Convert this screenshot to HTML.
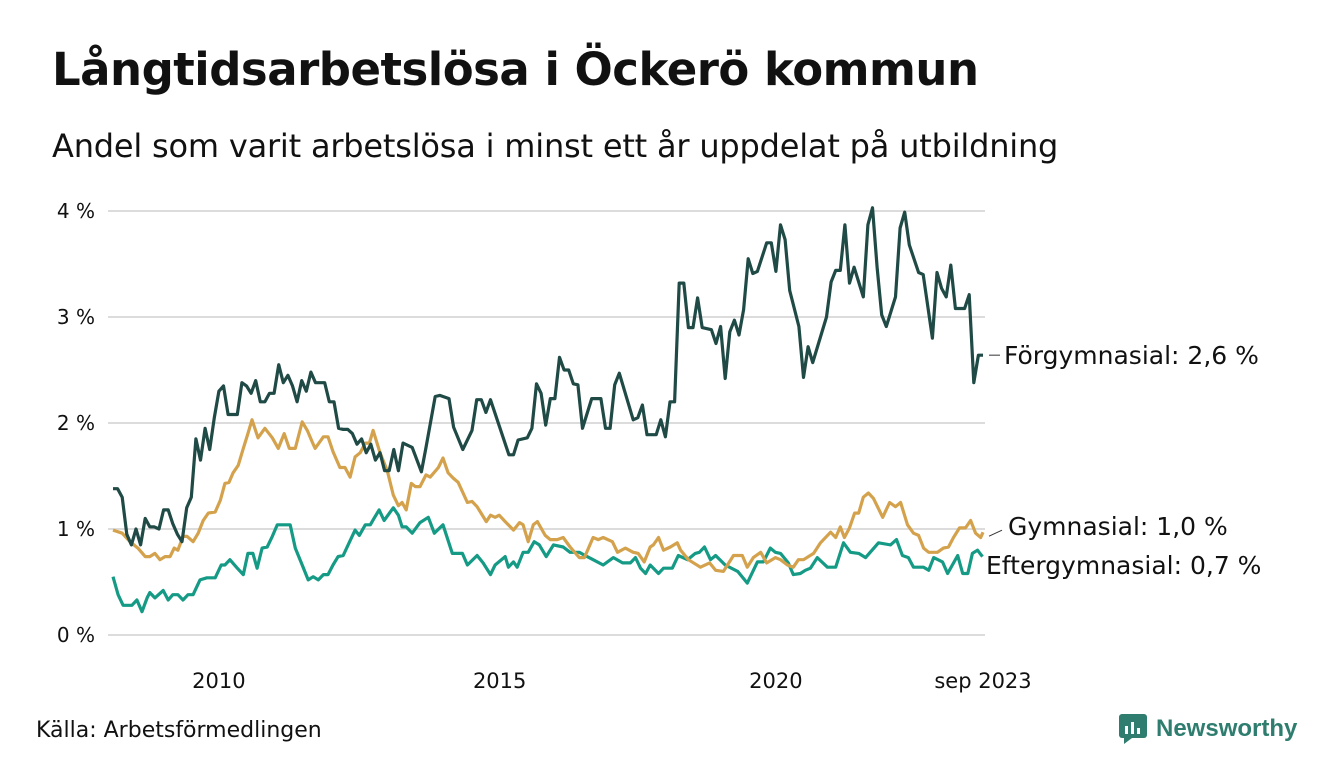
<!DOCTYPE html>
<html><head><meta charset="utf-8">
<style>
body{margin:0;background:#fff;font-family:"DejaVu Sans","Liberation Sans",sans-serif;}
#wrap{position:relative;width:1340px;height:780px;overflow:hidden;}
h1{position:absolute;left:52px;top:43px;margin:0;font-size:45px;font-weight:bold;color:#111;letter-spacing:-0.5px;white-space:nowrap}
h2{position:absolute;left:52px;top:127px;margin:0;font-size:32px;font-weight:normal;color:#111;white-space:nowrap;letter-spacing:-0.2px}
svg{position:absolute;left:0;top:0}
.src{position:absolute;left:36px;top:718px;font-size:22px;color:#111}
.logo{position:absolute;left:1118px;top:713px;font-size:24px;font-weight:bold;color:#2e7d6e;display:flex;align-items:center;gap:8px;font-family:"Liberation Sans",sans-serif}
</style></head><body>
<div id="wrap">
<h1>Långtidsarbetslösa i Öckerö kommun</h1>
<h2>Andel som varit arbetslösa i minst ett år uppdelat på utbildning</h2>
<svg id="chart" width="1340" height="780"></svg>
<div class="src">Källa: Arbetsförmedlingen</div>
<div class="logo">
<svg width="30" height="32" viewBox="0 0 30 32" style="position:static"><rect x="1" y="1" width="28" height="24" rx="3" fill="#2e7d6e"/><polygon points="6,25 14,25 6,31" fill="#2e7d6e"/><rect x="7" y="13" width="3" height="8" fill="#fff"/><rect x="13" y="9" width="3" height="12" fill="#fff"/><rect x="19" y="15" width="3" height="6" fill="#fff"/></svg>
<span>Newsworthy</span></div>
</div>
<script>
const yTicks=[0,1,2,3,4];
const yTickLabels=["0 %","1 %","2 %","3 %","4 %"];
const xTicks=[23,84,144,189];
const xTickLabels=["2010","2015","2020","sep 2023"];
const forgM=[0,1,2,3,4,5,6,7,8,9,10,11,12,13,14,15,16,17,18,19,20,21,22,23,24,25,26,27,28,29,30,31,32,33,34,35,36,37,38,39,40,41,42,43,44,45,46,47,48,49,50,51,52,53,54,55,56,57,58,59,60,61,62,63,65,67,68,70,71,73,74,76,78,79,80,81,82,84,86,87,88,90,91,92,93,94,95,96,97,98,99,100,101,102,104,106,107,108,109,110,113,114,115,116,118,119,120,121,122,123,124,125,126,127,128,130,131,132,133,134,135,136,137,138,139,140,142,143,144,145,146,147,149,150,151,152,155,156,157,158,159,160,161,163,164,165,166,167,168,170,171,172,173,175,176,178,179,180,181,182,183,185,186,187,188,189];
const forgV=[1.38,1.38,1.3,0.95,0.85,1.0,0.85,1.1,1.02,1.02,1.0,1.18,1.18,1.05,0.95,0.88,1.2,1.3,1.85,1.65,1.95,1.75,2.05,2.3,2.35,2.08,2.08,2.08,2.38,2.35,2.28,2.4,2.2,2.2,2.28,2.28,2.55,2.38,2.45,2.35,2.2,2.4,2.3,2.48,2.38,2.38,2.38,2.2,2.2,1.95,1.94,1.94,1.9,1.8,1.85,1.72,1.8,1.65,1.72,1.55,1.55,1.75,1.55,1.81,1.77,1.54,1.77,2.25,2.26,2.23,1.96,1.75,1.93,2.22,2.22,2.1,2.22,1.96,1.7,1.7,1.84,1.86,1.95,2.37,2.28,1.98,2.23,2.23,2.62,2.5,2.5,2.37,2.36,1.95,2.23,2.23,1.95,1.95,2.36,2.47,2.03,2.05,2.17,1.89,1.89,2.03,1.87,2.2,2.2,3.32,3.32,2.9,2.9,3.18,2.9,2.88,2.75,2.91,2.42,2.86,2.97,2.83,3.07,3.55,3.41,3.43,3.7,3.7,3.43,3.87,3.73,3.25,2.91,2.43,2.72,2.57,3.0,3.33,3.44,3.44,3.87,3.32,3.47,3.19,3.87,4.03,3.47,3.02,2.91,3.19,3.84,3.99,3.68,3.42,3.4,2.8,3.42,3.27,3.19,3.49,3.08,3.08,3.21,2.38,2.64,2.64];
const gymM=[0,2,3.7,5.4,7,8,9.1,10.2,11.3,12.4,13.3,14.1,15.2,16.1,17.4,18.5,19.6,20.7,22.2,23.3,24.3,25.2,26.1,27.2,28.3,29.3,30.2,31.5,33,34.6,35.9,37.2,38.3,39.6,41.1,42.2,43.3,43.9,45.7,46.7,47.8,49.3,50.4,51.5,52.6,53.7,54.8,55.7,56.5,58,59.6,60.9,62,62.8,63.7,64.8,65.7,66.7,68,68.9,70.7,71.7,72.8,73.9,75,77,78,79.1,81.1,82,83,83.9,85.2,87,88.3,89.1,90.2,91.3,92.2,93.9,95,96.5,97.8,99.3,101.3,102.4,104.3,105.4,106.5,108.5,109.6,111.3,113,114.1,115.4,116.7,117.4,118.5,119.6,121.1,122.6,123.3,125,127.6,129.6,130.9,132.6,134.8,136.7,137.8,139.1,140.7,142,143.9,145,146.5,147.8,148.9,150,152.2,153.7,155.9,157,158,158.9,160,161.1,162,163,164.1,165.2,167.2,168.7,170,171.1,172.6,173.9,175,176.1,177.2,179.1,180.4,181.5,182.6,183.9,185.2,186.3,187.4,188.5,189];
const gymV=[0.99,0.96,0.88,0.82,0.74,0.74,0.77,0.71,0.74,0.74,0.82,0.8,0.93,0.93,0.88,0.96,1.08,1.15,1.16,1.27,1.43,1.44,1.53,1.6,1.76,1.9,2.03,1.86,1.95,1.86,1.76,1.9,1.76,1.76,2.01,1.93,1.82,1.76,1.87,1.87,1.73,1.58,1.58,1.49,1.68,1.72,1.81,1.81,1.93,1.72,1.55,1.32,1.22,1.25,1.18,1.43,1.4,1.4,1.51,1.49,1.58,1.67,1.53,1.48,1.44,1.25,1.26,1.21,1.07,1.13,1.11,1.13,1.07,0.99,1.06,1.04,0.88,1.04,1.07,0.94,0.9,0.9,0.92,0.83,0.73,0.73,0.92,0.9,0.92,0.88,0.78,0.82,0.78,0.77,0.69,0.83,0.85,0.92,0.8,0.83,0.87,0.8,0.71,0.64,0.68,0.61,0.6,0.75,0.75,0.64,0.73,0.78,0.68,0.73,0.71,0.66,0.64,0.71,0.71,0.77,0.87,0.97,0.92,1.02,0.92,1.01,1.15,1.15,1.3,1.34,1.29,1.11,1.25,1.21,1.25,1.04,0.96,0.94,0.82,0.78,0.78,0.82,0.83,0.92,1.01,1.01,1.08,0.96,0.92,0.97];
const eftM=[0,1.1,2.2,4.1,5.2,6.3,7.4,8,9.1,10.9,12,13,14.1,15.2,16.3,17.4,18.9,20.4,22.2,23.5,24.3,25.4,27,28.3,29.3,30.4,31.3,32.4,33.5,34.6,35.7,37,38.5,39.6,41.1,42.4,43.5,44.6,45.7,46.7,47.8,48.9,50,51.3,52.6,53.5,54.8,55.9,56.7,57.8,58.9,60.9,62,62.8,63.7,65,66.7,68.5,69.8,71.7,73.7,75.9,77,79.1,80.4,82,83,85.2,85.9,87,87.8,89.1,90.2,91.5,92.6,94.1,95.7,97.8,99.3,101.3,103,104.3,106.5,108.7,110.7,112.4,113.5,114.6,115.7,116.7,118.5,119.6,121.5,122.8,124.8,126.5,127.4,128.5,129.8,130.9,133,135.7,137.8,140,141.3,142.8,143.9,145,146.7,147.8,149.3,150.4,151.5,153,155.2,157,158.7,160.2,162,163.5,166.3,168.9,170.2,171.5,172.8,173.9,176.1,177.2,178.3,180.2,181.3,183.5,184.6,185.7,186.7,187.8,188.9];
const eftV=[0.55,0.38,0.28,0.28,0.33,0.22,0.35,0.4,0.35,0.42,0.33,0.38,0.38,0.33,0.38,0.38,0.52,0.54,0.54,0.66,0.66,0.71,0.63,0.57,0.77,0.77,0.63,0.82,0.83,0.93,1.04,1.04,1.04,0.82,0.66,0.52,0.55,0.52,0.57,0.57,0.66,0.74,0.75,0.87,0.99,0.94,1.04,1.04,1.1,1.18,1.08,1.2,1.13,1.02,1.02,0.96,1.06,1.11,0.96,1.04,0.77,0.77,0.66,0.75,0.68,0.57,0.66,0.74,0.64,0.69,0.64,0.78,0.78,0.88,0.85,0.74,0.85,0.83,0.78,0.78,0.74,0.71,0.66,0.73,0.68,0.68,0.73,0.63,0.58,0.66,0.58,0.63,0.63,0.75,0.71,0.77,0.78,0.83,0.71,0.75,0.66,0.6,0.49,0.69,0.69,0.82,0.78,0.77,0.68,0.57,0.58,0.61,0.63,0.73,0.64,0.64,0.87,0.78,0.77,0.73,0.87,0.85,0.9,0.75,0.73,0.64,0.64,0.61,0.73,0.69,0.58,0.75,0.58,0.58,0.77,0.8,0.74];
const endLabels=["Förgymnasial: 2,6 %","Gymnasial: 1,0 %","Eftergymnasial: 0,7 %"];

const NS="http://www.w3.org/2000/svg";
const FONT='DejaVu Sans, Liberation Sans, sans-serif';
const svg=document.getElementById('chart');
const X0=113,X1=983,MMAX=189,Y0=635,PXU=106;
function xs(m){return X0+(X1-X0)*m/MMAX;}
function ys(v){return Y0-PXU*v;}
function mk(t,a){const e=document.createElementNS(NS,t);for(const k in a)e.setAttribute(k,a[k]);svg.appendChild(e);return e;}
yTicks.forEach((t,i)=>{
  const g=mk('line',{x1:108,x2:985,y1:ys(t),y2:ys(t),stroke:'#dcdcdc','stroke-width':2});
  
  
  const tx=mk('text',{x:95,y:ys(t)+7,'text-anchor':'end','font-size':20,fill:'#111','font-family':FONT});
  tx.textContent=yTickLabels[i];
  
  
});
xTicks.forEach((t,i)=>{
  const tx=mk('text',{x:xs(t),y:688,'text-anchor':'middle','font-size':21,fill:'#111','font-family':FONT});
  tx.textContent=xTickLabels[i];
  
  
});
function line(M,V,color,name){
  const d=M.map((m,i)=>(i?'L':'M')+xs(m).toFixed(1)+' '+ys(V[i]).toFixed(1)).join(' ');
  const p=mk('path',{d:d,fill:'none',stroke:color,'stroke-width':3.2,'stroke-linejoin':'round'});
  
  
}
line(eftM,eftV,'#159a86','series-eftergymnasial');
line(gymM,gymV,'#d4a24c','series-gymnasial');
line(forgM,forgV,'#1f4a45','series-forgymnasial');
const lastF=forgV[forgV.length-1],lastG=gymV[gymV.length-1];
const l1=mk('line',{x1:989,x2:1000,y1:ys(lastF),y2:ys(lastF),stroke:'#333','stroke-width':1});


const l2=mk('line',{x1:989,x2:1002,y1:ys(lastG)+4,y2:ys(lastG)-2,stroke:'#333','stroke-width':1});


const lp=[[1004,ys(lastF)+9],[1008,535],[986,574]];
endLabels.forEach((s,i)=>{
  const tx=mk('text',{x:lp[i][0],y:lp[i][1],'font-size':25,fill:'#111','font-family':FONT});
  tx.textContent=s;
  
  
});
</script>
</body></html>
